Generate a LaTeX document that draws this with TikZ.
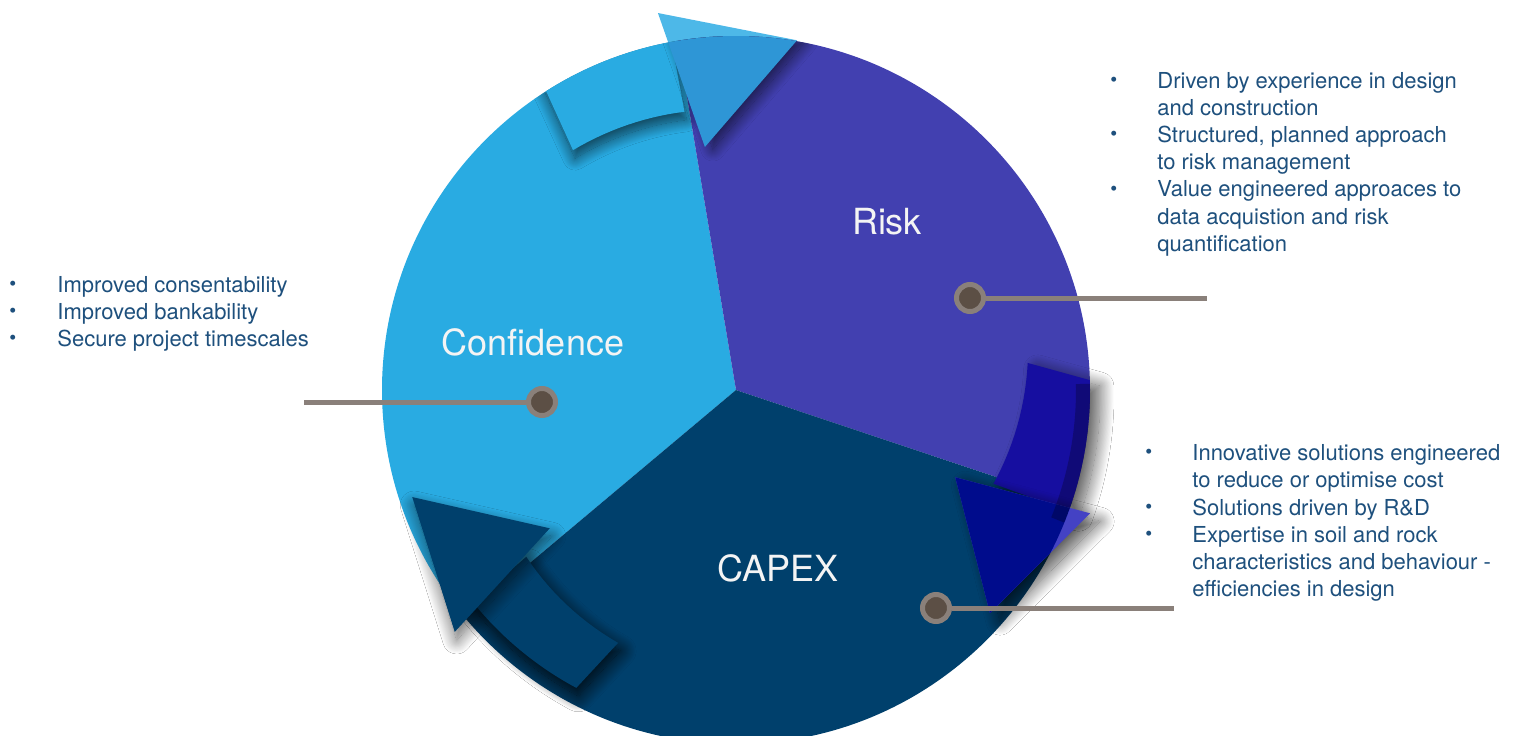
\documentclass[tikz,border=0pt]{standalone}
\usepackage{fontspec}
\setmainfont{TeX Gyre Heros}
\usetikzlibrary{shadows.blur}
\definecolor{confC}{HTML}{29ABE2}
\definecolor{riskC}{HTML}{4240B0}
\definecolor{capexC}{HTML}{00406C}
\definecolor{topHeadIn}{HTML}{2E96D6}
\definecolor{topHeadOut}{HTML}{4DB8E8}
\definecolor{rBody}{HTML}{160EA0}
\definecolor{rHeadIn}{HTML}{000C8C}
\definecolor{rHeadOut}{HTML}{4442C4}
\definecolor{txtC}{HTML}{1E507D}
\definecolor{ringC}{HTML}{8A807A}
\definecolor{dotC}{HTML}{5C4F45}
\definecolor{labelC}{HTML}{F4F4F4}
\newcommand\bul{\raisebox{0.15ex}{\scalebox{0.9}{\textbullet}}}
\begin{document}
\begin{tikzpicture}[x=0.5pt,y=-0.5pt,
  listtext/.style={font=\fontsize{11}{13.6}\selectfont, text=txtC, inner sep=0pt, anchor=base west},
  seclabel/.style={font=\fontsize{18}{21}\selectfont, text=labelC, inner sep=0pt, anchor=base},
  dotnode/.style={circle, draw=ringC, fill=dotC, line width=2.5pt, minimum size=13.5pt, inner sep=0pt},
  conn/.style={draw=ringC, line width=2.5pt},
  soft/.style n args={4}{blur shadow={shadow xshift=#1, shadow yshift=#2, shadow blur radius=#3, shadow blur steps=24, shadow opacity=#4}}]
\useasboundingbox[fill=white] (0,0) rectangle (1523,735);

\begin{scope}[shift={(736,390)}]
  % top arrow head, part outside the disc
  \fill[topHeadOut] (258.3:385) -- (262.7:245) -- (279.9:355) -- cycle;
  \begin{scope}
    \clip (0,0) circle[radius=354];
    % sectors
    \fill[confC] (0,0) -- (140:520) arc[start angle=140, end angle=260.5, radius=520] -- cycle;
    \fill[riskC] (0,0) -- (260.5:520) arc[start angle=260.5, end angle=378.5, radius=520] -- cycle;
    \fill[capexC] (0,0) -- (18.5:520) arc[start angle=18.5, end angle=140, radius=520] -- cycle;
    % top arrow body
    \fill[confC, soft={1pt}{-4pt}{6pt}{65}]
      (237.7:360) arc[start angle=237.7, end angle=259.5, radius=360]
      -- plot[variable=\t, domain=259.5:235.8, samples=15] (\t:{283+(259.5-\t)*0.2954}) -- cycle;
    % top arrow head, inside
    \fill[topHeadIn, soft={4pt}{-1pt}{6pt}{60}]
      (258.3:385) -- (262.7:245) -- (279.9:355) -- cycle;
  \end{scope}
  % right arrow
  \fill[rBody, soft={5pt}{-3pt}{7pt}{65}]
    (-1.6:354) arc[start angle=-1.6, end angle=20, radius=354]
    -- plot[variable=\t, domain=20:-5.3, samples=15] (\t:{274+(20-\t)*0.751}) -- cycle;
  \fill[rHeadOut, soft={5pt}{-4pt}{7pt}{65}]
    (19.2:375) -- (21.7:236) -- (41.3:338) -- cycle;
  \begin{scope}
    \clip (0,0) circle[radius=354];
    \fill[rHeadIn] (19.2:375) -- (21.7:236) -- (41.3:338) -- cycle;
    % darker rim band beside the right arrow body
    \fill[black, opacity=0.25] (-1:354) arc[start angle=-1, end angle=22, radius=354]
      -- (22:340) arc[start angle=22, end angle=-1, radius=340] -- cycle;
  \end{scope}
  % bottom-left arrow
  \fill[capexC, soft={1pt}{-4pt}{8pt}{90}]
    (118.2:338) arc[start angle=118.2, end angle=141, radius=338]
    -- plot[variable=\t, domain=141.5:115, samples=15] (\t:{268+(141.5-\t)*0.415}) -- cycle;
  \fill[capexC, soft={1pt}{-4pt}{7pt}{60}]
    (139.3:371) -- (143.4:232) -- (161.7:341) -- cycle;
\end{scope}

% sector labels
\node[seclabel] (lconf) at (533,355) {Confidence};
\node[seclabel] (lrisk) at (887,234) {Risk};
\node[seclabel] (lcapex) at (778,581) {CAPEX};

% connectors
\node[dotnode] (dconf) at (542,402) {};
\node[dotnode] (drisk) at (970,298) {};
\node[dotnode] (dcapex) at (936,608) {};
\coordinate (econf) at (304,402);
\coordinate (erisk) at (1207,298);
\coordinate (ecapex) at (1174,608);
\draw[conn] (econf) -- (dconf);
\draw[conn] (drisk) -- (erisk);
\draw[conn] (dcapex) -- (ecapex);

% bullet lists
\node[listtext] (tconf) at (9,292) {\begin{tabular}[t]{@{}p{24pt}@{}l@{}}
\bul & Improved consentability\\
\bul & Improved bankability\\
\bul & Secure project timescales
\end{tabular}};
\node[listtext] (trisk) at (1110,88) {\begin{tabular}[t]{@{}p{23.5pt}@{}l@{}}
\bul & Driven by experience in design\\
 & and construction\\
\bul & Structured, planned approach\\
 & to risk management\\
\bul & Value engineered approaces to\\
 & data acquistion and risk\\
 & quantification
\end{tabular}};
\node[listtext] (tcapex) at (1145,460.7) {\begin{tabular}[t]{@{}p{23.5pt}@{}l@{}}
\bul & Innovative solutions engineered\\
 & to reduce or optimise cost\\
\bul & Solutions driven by R\&D\\
\bul & Expertise in soil and rock\\
 & characteristics and behaviour -\\
 & efficiencies in design
\end{tabular}};
\end{tikzpicture}
\end{document}
